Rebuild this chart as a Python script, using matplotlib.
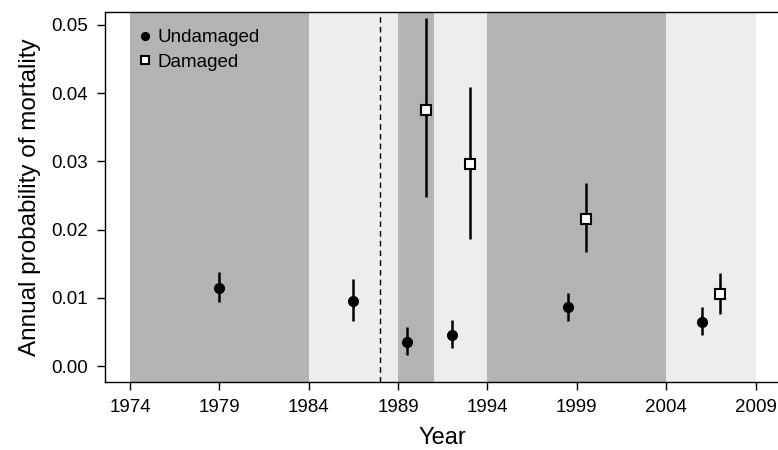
import numpy as np
import matplotlib.pyplot as plt

plt.rcParams['font.family'] = ['Liberation Sans', 'DejaVu Sans']

# Data: undamaged trees
und_year = [1979, 1986.5, 1989.5, 1992, 1998.5, 2006]
und_p = [0.0115, 0.0095, 0.0035, 0.0045, 0.0086, 0.0065]
und_lo = [0.0094, 0.0066, 0.0016, 0.0026, 0.0066, 0.0046]
und_hi = [0.0138, 0.0127, 0.0057, 0.0067, 0.0107, 0.0087]

# Data: damaged trees
dam_year = [1990.55, 1993, 1999.5, 2007]
dam_p = [0.0375, 0.0296, 0.0216, 0.0105]
dam_lo = [0.0247, 0.0186, 0.0167, 0.0076]
dam_hi = [0.0510, 0.0409, 0.0268, 0.0137]

# Shaded periods (start, end, dark?)
periods = [(1974, 1984, True), (1984, 1989, False), (1989, 1991, True),
           (1991, 1994, False), (1994, 2004, True), (2004, 2009, False)]
event_year = 1988
xticks = [1974, 1979, 1984, 1989, 1994, 1999, 2004, 2009]
yticks = [0.00, 0.01, 0.02, 0.03, 0.04, 0.05]

fig = plt.figure(figsize=(7.78, 4.5), dpi=100)
ax = fig.add_axes([0.135, 0.151, 0.866, 0.822])

for a, b, dark in periods:
    ax.axvspan(a, b, color='#b3b3b3' if dark else '#ededed', lw=0, zorder=0)

ax.axvline(event_year, color='black', ls=(0, (4, 3)), lw=1, zorder=1)

und_err = [np.array(und_p) - np.array(und_lo), np.array(und_hi) - np.array(und_p)]
dam_err = [np.array(dam_p) - np.array(dam_lo), np.array(dam_hi) - np.array(dam_p)]

ax.errorbar(und_year, und_p, yerr=und_err, fmt='o', color='black', ms=7,
            elinewidth=1.8, capsize=0, label='Undamaged', zorder=3)
ax.errorbar(dam_year, dam_p, yerr=dam_err, fmt='s', color='black', mfc='white',
            mec='black', mew=1.5, ms=7.5, elinewidth=1.8, capsize=0,
            label='Damaged', zorder=3)

ax.set_xlim(1972.6, 2010.3)
ax.set_ylim(-0.00235, 0.05186)
ax.set_xticks(xticks)
ax.set_yticks(yticks)
ax.set_yticklabels(['%.2f' % v for v in yticks])
ax.tick_params(direction='out', length=6, width=1, labelsize=13.5, pad=6)
ax.spines['right'].set_visible(False)
for s in ['left', 'top', 'bottom']:
    ax.spines[s].set_linewidth(1)

ax.set_xlabel('Year', fontsize=17, labelpad=8)
ax.set_ylabel('Annual probability of mortality', fontsize=17.5, labelpad=8)

h, l = ax.get_legend_handles_labels()
h = [hh[0] for hh in h]
ax.legend(h, l, loc='upper left', bbox_to_anchor=(0.02, 1.0), frameon=False,
          fontsize=13.5, handletextpad=0.2, handlelength=1.0, labelspacing=0.4,
          markerscale=0.8)

fig.savefig('out.png', dpi=100)
